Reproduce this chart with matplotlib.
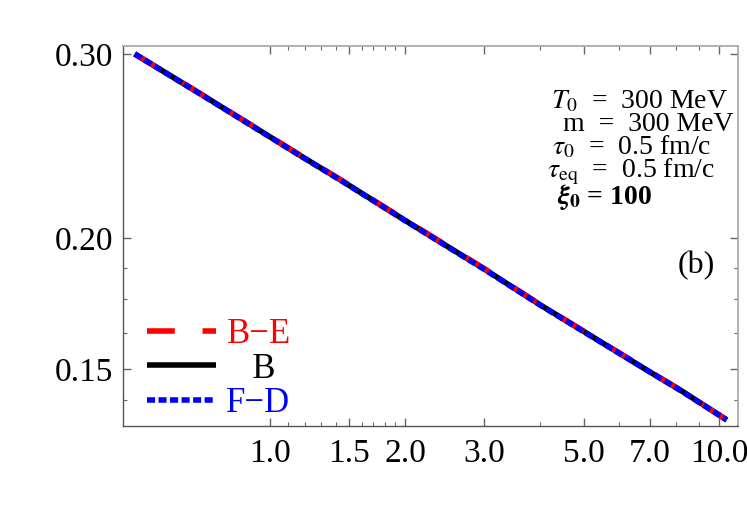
import matplotlib
matplotlib.use("Agg")
import matplotlib.pyplot as plt
from matplotlib.ticker import FixedLocator, NullFormatter, FixedFormatter

plt.rcParams['font.family'] = ['Liberation Serif', 'DejaVu Serif']
plt.rcParams['mathtext.fontset'] = 'stix'
plt.rcParams['lines.scale_dashes'] = False

# data
tau = [0.5, 0.7, 1.0, 1.17, 1.43, 2.0, 3.0, 4.0, 5.0, 7.0, 8.2, 10.4]
T_B = [0.300, 0.2748, 0.2500, 0.2398, 0.2276, 0.2080, 0.1869, 0.1727, 0.1629, 0.1491, 0.1432, 0.1341]
T_BE = [0.300, 0.2749, 0.2502, 0.2400, 0.2278, 0.2082, 0.1871, 0.1728, 0.1630, 0.1492, 0.1432, 0.1341]
T_FD = [0.300, 0.2747, 0.2499, 0.2397, 0.2275, 0.2079, 0.1868, 0.1726, 0.1628, 0.1491, 0.1431, 0.1341]

xticks = [1.0, 1.5, 2.0, 3.0, 5.0, 7.0, 10.0]
xtick_labels = ["1.0", "1.5", "2.0", "3.0", "5.0", "7.0", "10.0"]
xminor = [1.1, 1.2, 1.3, 1.4, 1.6, 1.7, 1.8, 1.9, 4.0, 6.0, 8.0, 9.0]
yticks = [0.15, 0.20, 0.30]
ytick_labels = ["0.15", "0.20", "0.30"]
yminor = [0.14, 0.1625, 0.175, 0.1875]

sp = "\u2002"
params = [r"$T_0$" + sp + "=" + sp + "300 MeV", "m" + sp + "=" + sp + "300 MeV",
          r"$\tau_0$" + sp + "=" + sp + "0.5 fm/c", r"$\tau_{\rm eq}$" + sp + "=" + sp + "0.5 fm/c",
          r"$\mathbfit{\xi}_\mathbf{0}$ = 100"]

fig = plt.figure(figsize=(7.47, 5.28), dpi=100)
ax = fig.add_axes([0.1647, 0.1937, 0.988 - 0.1647, 0.9129 - 0.1937])

ax.plot(tau, T_B, color='black', lw=4, solid_capstyle='butt', label='   B', zorder=2)
ax.plot(tau, T_BE, color='red', lw=4, linestyle=(0, (20, 20)), dash_capstyle='butt', label='B\u2212E', zorder=3)
ax.plot(tau, T_FD, color='blue', lw=4, linestyle=(0, (5.8, 2.5)), dash_capstyle='butt', label='F\u2212D', zorder=4)

ax.set_xscale('log')
ax.set_yscale('log')
ax.set_xlim(0.471, 11.02)
ax.set_ylim(0.1324, 0.3053)

ax.xaxis.set_major_locator(FixedLocator(xticks))
ax.xaxis.set_major_formatter(FixedFormatter(xtick_labels))
ax.xaxis.set_minor_locator(FixedLocator(xminor))
ax.xaxis.set_minor_formatter(NullFormatter())
ax.yaxis.set_major_locator(FixedLocator(yticks))
ax.yaxis.set_major_formatter(FixedFormatter(ytick_labels))
ax.yaxis.set_minor_locator(FixedLocator(yminor))
ax.yaxis.set_minor_formatter(NullFormatter())

ax.tick_params(which='both', direction='in', top=True, right=True, colors='#666666',
               labelcolor='black', labelsize=24)
ax.tick_params(which='major', length=6, width=1)
ax.tick_params(which='minor', length=3, width=0.8)
ax.tick_params(axis='x', pad=9)
ax.tick_params(axis='y', pad=7)

for s in ['left', 'bottom']:
    ax.spines[s].set_color('#555555')
    ax.spines[s].set_linewidth(1.0)
for s in ['top', 'right']:
    ax.spines[s].set_color('#aaaaaa')
    ax.spines[s].set_linewidth(1.3)

# parameter text
xs = [551, 563, 552, 547, 557]
ys = [108, 131, 154, 177, 204]
for t, xp, yp in zip(params, xs, ys):
    kw = dict(fontweight='bold') if 'xi' in t else {}
    fig.text(xp / 747, 1 - yp / 528, t, fontsize=20, ha='left', va='baseline', **kw)

fig.text(696 / 747, 1 - 266 / 528, "(b)", fontsize=23, ha='center', va='center')

handles, labels = ax.get_legend_handles_labels()
order = [1, 0, 2]
leg = ax.legend([handles[i] for i in order], [labels[i] for i in order],
                loc='center left', bbox_to_anchor=(0.027, 0.149), frameon=False,
                fontsize=25, handlelength=2.0, handletextpad=0.3, labelspacing=0.05,
                borderaxespad=0.0, borderpad=0.2)
for txt, h in zip(leg.get_texts(), [handles[i] for i in order]):
    txt.set_color(h.get_color())

fig.savefig("out.png", dpi=100)
